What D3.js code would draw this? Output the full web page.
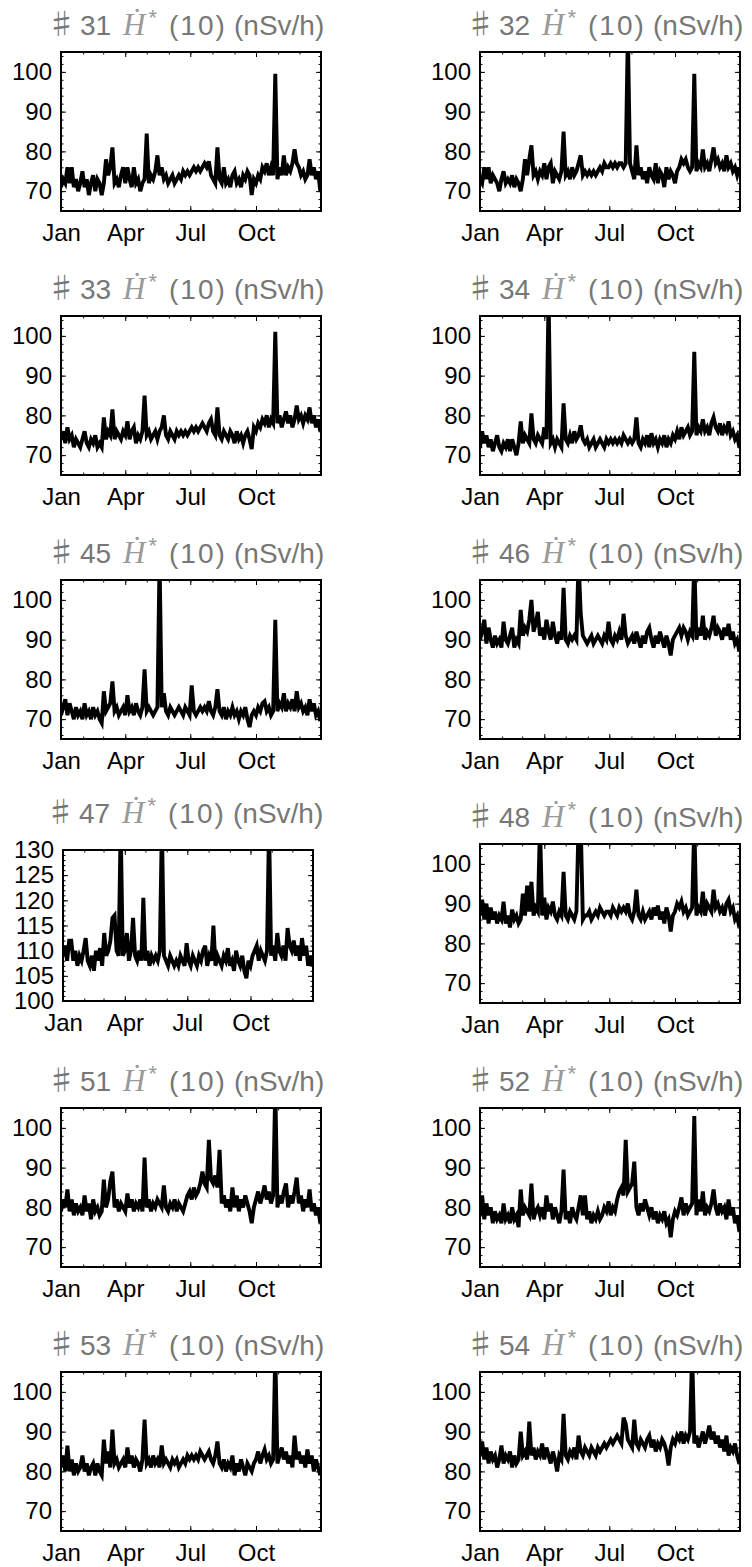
<!DOCTYPE html>
<html>
<head>
<meta charset="utf-8">
<script src="https://cdn.jsdelivr.net/npm/d3@7"></script>
<style>
  body { margin: 0; background: #fff; }
  svg { display: block; }
</style>
</head>
<body>
<div id="chart"></div>
<script>
// one value every 3 days, starting Jan 1
const stepDays = 3;
const monthLabels = ["Jan", "Apr", "Jul", "Oct"];
const yTicksMain = [70, 80, 90, 100];
const yTicks47 = [100, 105, 110, 115, 120, 125, 130];

const s31 = [
  71, 73, 72, 76, 72, 76, 71, 73, 70, 72,
  75, 71, 73, 69, 72, 74, 70, 73, 72, 69,
  72, 78, 74, 76, 81, 72, 73, 71, 74, 76,
  72, 76, 73, 71, 76, 72, 73, 70, 72, 73,
  84.5, 72, 74, 73, 75, 79, 74, 76, 73, 74,
  72, 73, 74, 72, 73, 74, 73, 75, 74, 75,
  74, 75, 76, 75, 76, 75, 76, 77, 76, 77.5,
  74, 73, 72, 81, 73, 72, 76, 72, 73, 71,
  74, 75, 72, 73, 71, 74, 73, 75, 74, 69,
  73, 72, 74, 73, 76, 75, 77, 74, 76, 74,
  99.5, 73, 76, 74, 79, 74, 76, 75, 77, 80.5,
  77, 76, 74, 75, 73, 74, 78, 74, 76, 73, 75, 70
];
const s32 = [
  73, 72, 76, 73, 76, 72, 74, 73, 72, 70,
  73, 75, 72, 73, 72, 74, 71, 73, 72, 70,
  73, 78, 74, 78, 81.5, 74, 75, 73, 75, 74,
  77, 73, 76, 77, 72, 75, 74, 73, 75, 85,
  74, 75, 73, 76, 74, 75, 77, 79, 74, 75,
  74, 75, 74, 75, 74, 75, 76, 75, 77, 76,
  76, 77, 76, 77, 76, 77, 77, 76, 77, 110,
  77, 75, 73, 81.5, 74, 76, 73, 75, 72, 76,
  74, 73, 77, 72, 75, 74, 71, 76, 73, 75,
  74, 72, 75, 76, 78, 77, 78, 76, 75, 76,
  99.5, 75, 77, 76, 80.5, 76, 77, 75, 78, 81,
  77, 78, 76, 77, 75, 79, 76, 77, 75, 76, 74, 76
];
const s33 = [
  74, 76, 73, 77, 74, 75, 72, 74, 73, 72,
  74, 76, 73, 72, 74, 73, 75, 72, 73, 72,
  79.5, 74, 76, 75, 81.5, 74, 76, 75, 74, 76,
  75, 78.5, 74, 76, 77, 73, 75, 74, 76, 85,
  75, 76, 74, 75, 76, 74, 76, 77, 80, 75,
  74, 76, 75, 74, 76, 75, 76, 75, 76, 75,
  76, 77, 76, 77, 76, 77, 78, 77, 76, 78,
  79, 76, 75, 82, 75, 74, 76, 75, 74, 76,
  75, 73, 76, 74, 75, 73, 75, 76, 74, 71.5,
  77, 76, 78, 77, 79, 78, 80, 77, 79, 78,
  101, 78, 80, 77, 79, 81, 78, 80, 77, 79,
  82.5, 79, 80, 78, 80, 79, 82, 78, 80, 77, 79, 76
];
const s34 = [
  72, 76, 73, 75, 72, 74, 71, 73, 75, 72,
  71, 73, 72, 74, 71, 74, 72, 70, 73, 78.5,
  73, 75, 74, 73, 80.5, 74, 73, 75, 74, 73,
  77, 74, 110, 73, 74, 72, 74, 73, 72, 83,
  74, 73, 75, 73, 76, 74, 75, 77.5, 74, 73,
  74, 72, 73, 74, 72, 73, 74, 73, 72, 74,
  73, 74, 73, 74, 73, 74, 73, 75, 74, 73,
  74, 73, 74, 79.5, 73, 72, 74, 73, 75, 72,
  75.5, 73, 74, 72, 74, 73, 75, 72, 74, 73,
  75, 74, 76, 74, 77, 75, 76, 77, 75, 76,
  96, 75, 77, 76, 79, 76, 77, 75, 78, 79.5,
  77, 76, 78, 75, 77, 76, 78.5, 75, 76, 74, 75, 72
];
const s45 = [
  71, 73, 75, 71, 74, 72, 70, 73, 71, 72,
  70, 74, 71, 72, 70, 73, 71, 72, 70, 69,
  77, 72, 73, 74, 79.5, 72, 73, 71, 72, 73,
  71, 76, 72, 73, 71, 74, 72, 71, 73, 82.5,
  72, 73, 72, 71, 72, 73, 110, 73, 76.5, 72,
  71, 73, 72, 71, 72, 73, 72, 71, 73, 72,
  71, 78.5, 72, 71, 72, 73, 72, 73, 72, 74.5,
  72, 71, 73, 77.5, 72, 71, 73, 70, 72, 71,
  73, 71, 72, 70, 72, 71, 73, 70, 68, 71,
  72, 71, 73, 72, 74, 74.5, 72, 73, 71, 72,
  95, 72, 74, 73, 76.5, 72, 74, 73, 75, 72,
  77, 73, 74, 72, 73, 71, 75, 72, 74, 71, 72, 69.5
];
const s46 = [
  90, 92, 95, 89, 93, 90, 88, 91, 89, 90,
  88, 94.5, 90, 89, 91, 93, 88, 90, 89, 97.5,
  91, 93, 92, 95, 100, 92, 94, 97, 91, 93,
  90, 95, 92, 90, 94.5, 91, 89, 92, 90, 103,
  90, 89, 91, 90, 91, 90, 110, 96.5, 91, 90,
  89, 90, 91, 89, 90, 91, 90, 89, 91, 90,
  94.5, 90, 89, 91, 90, 92, 90, 96.5, 91, 89,
  90, 91, 89, 92, 90, 88, 91, 89, 92, 93,
  90, 88, 91, 89, 92, 90, 88, 91, 89, 86,
  90, 91, 92, 93, 91, 93, 92, 90, 92, 91,
  110, 90, 93, 91, 96, 90, 92, 91, 93, 96,
  91, 93, 92, 90, 93, 91, 94, 90, 92, 89, 90, 87
];
const s47 = [
  109, 111, 108, 112, 112, 108, 110, 107, 109, 108,
  110, 112.5, 108, 107, 109, 106, 110, 108, 110.5, 107,
  113.5, 109, 110, 112, 116.5, 117, 110, 109, 135, 109,
  110, 113.5, 108, 110, 116.5, 109, 108, 110, 108, 120.5,
  108, 110, 107, 109, 108, 109, 108, 110, 135, 109,
  108, 107, 109, 108, 107, 108, 107, 109, 108, 107,
  111.5, 108, 107, 109, 108, 107, 109, 108, 110, 111,
  107, 109, 108, 115, 107, 109, 108, 107, 109, 108,
  110.5, 107, 108, 106, 110, 108, 107, 109, 106, 104.5,
  108, 107, 109, 110, 111, 108, 110, 109, 108, 110,
  135, 109, 111, 108, 113.5, 110, 109, 111, 108, 114.5,
  111, 110, 112, 109, 111, 108, 112.5, 109, 111, 107, 109, 107
];
const s48 = [
  87, 91, 86, 90, 85, 89, 86, 88, 85, 87,
  86, 90.5, 85, 87, 84, 88.5, 86, 87, 85, 86,
  92.5, 87, 94.5, 88, 95.5, 87, 89, 88, 110, 87,
  91.5, 86, 89, 88, 90.5, 87, 86, 88, 87, 98,
  87, 86, 88, 87, 86, 88, 110, 110, 86, 87,
  87, 88, 86, 87, 88, 87, 89, 88, 87, 88,
  88, 87, 89, 88, 87, 89, 88, 89, 88, 90,
  87, 86, 88, 93.5, 87, 86, 88, 86, 87, 88,
  86, 89, 87, 89.5, 86, 88, 85, 89, 87, 83,
  87, 88, 90, 89, 90.5, 88, 89, 87, 88, 89,
  110, 87, 89, 88, 93, 87, 90, 89, 88, 93.5,
  89, 90, 88, 89, 87, 90, 91, 88, 89, 86, 87, 84
];
const s51 = [
  79, 82, 80, 84.5, 79, 82, 78, 81, 79, 80,
  78, 83, 79, 81, 77, 82, 79, 80, 78, 79,
  87, 80, 82, 86.5, 89, 80, 82, 79, 81, 80,
  79, 83.5, 80, 82, 79, 81, 80, 82, 79, 92.5,
  80, 82, 79, 81, 80, 82, 81, 80, 85.5, 80,
  79, 81, 80, 82, 79, 81, 80, 79, 81, 83,
  84, 82, 85, 83, 84, 86, 89, 86, 85, 97,
  87, 86, 88, 85, 94.5, 81, 83, 80, 82, 79,
  85, 80, 83, 79, 82, 80, 83, 81, 79, 76,
  80, 82, 84, 81, 83, 85.5, 82, 84, 81, 83,
  110, 80, 83, 81, 84, 86, 80, 83, 81, 84,
  87.5, 81, 83, 79, 82, 80, 84.5, 79, 81, 78, 80, 76
];
const s52 = [
  78, 83, 77, 81, 78, 80, 76, 79, 77, 78,
  76, 81, 77, 78, 76, 80, 77, 78, 75, 84.5,
  78, 80, 79, 78, 86, 77, 79, 80, 78, 80,
  77, 83, 79, 81, 77, 80, 78, 76, 79, 89.5,
  77, 79, 76, 80, 78, 77, 80, 83, 78, 83,
  77, 79, 76, 78, 77, 79, 77, 78, 80, 79,
  81.5, 78, 80, 79, 82, 84, 85, 83, 97, 84,
  85, 86, 91.5, 80, 78, 81, 79, 82, 80, 78,
  80, 77, 79, 76, 78, 77, 79, 76, 77, 72.5,
  77, 79, 78, 80, 82.5, 78, 81, 79, 80, 81,
  103, 78, 82, 79, 84, 78, 80, 79, 81, 84.5,
  80, 78, 81, 79, 80, 77, 82, 78, 80, 76, 78, 74
];
const s53 = [
  81, 84, 80, 86.5, 80, 83, 79, 82, 80, 81,
  84, 80, 82, 79, 81, 82, 79, 82, 80, 79,
  88, 82, 85, 81, 90.5, 82, 83, 81, 82, 83,
  81, 86, 82, 84, 81, 83, 82, 80, 83, 93,
  82, 83, 81, 84, 82, 83, 81, 86.5, 82, 83,
  82, 81, 83, 82, 83, 81, 82, 83, 82, 84,
  83, 84, 83, 84, 83, 85, 84, 83, 84, 85,
  83, 82, 84, 87.5, 82, 81, 83, 80, 82, 81,
  84, 79, 82, 80, 83, 81, 79, 82, 81, 80,
  82, 83, 85, 82, 84, 85.5, 83, 84, 82, 83,
  110, 82, 84, 86, 83, 85, 82, 84, 81, 89,
  83, 85, 82, 84, 81, 85.5, 82, 84, 80, 83, 81, 79
];
const s54 = [
  84, 87.5, 83, 86, 82, 85, 83, 84, 81, 83,
  86.5, 82, 84, 83, 85, 81, 84, 82, 83, 90,
  84, 85, 83, 92.5, 84, 86, 83, 85, 84, 87,
  83, 86, 84, 82, 85, 83, 80, 84, 83, 94.5,
  84, 83, 85, 84, 86, 83, 89, 85, 84, 86,
  85, 84, 86, 85, 84, 86, 85, 86, 87, 86,
  87, 88, 87, 88, 89, 88, 87, 93.5, 92, 88,
  87, 86, 93, 87, 86, 88, 87, 86, 88, 89,
  86, 88, 85, 87, 86, 88, 87, 85, 81.5, 86,
  88, 87, 89, 88, 90, 87, 89, 88, 90, 110,
  87, 89, 86, 88, 90, 87, 89, 91.5, 88, 90,
  87, 89, 86, 88, 85, 89, 84, 86, 85, 87, 84, 82
];

const panelIds = ["31", "32", "33", "34", "45", "46", "47", "48", "51", "52", "53", "54"];
const panelSeries = [s31, s32, s33, s34, s45, s46, s47, s48, s51, s52, s53, s54];

const W = 752, H = 1567;
const svg = d3.select("#chart").append("svg")
  .attr("width", W)
  .attr("height", H);

const yearStart = new Date(2019, 0, 1);
const yearEnd = new Date(2019, 11, 31);
const labelFont = "'Liberation Sans', Arial, sans-serif";

panelIds.forEach(function(id, k) {
  const values = panelSeries[k];
  const col = k % 2, row = Math.floor(k / 2);
  const big = id === "47";

  // frame box
  let left = col === 0 ? 61 : 480;
  let top = 52 + row * 264;
  let w = 260, h = 159;
  if (big) { left = 63; top = 850; w = 250; h = 151; }

  const g = svg.append("g").attr("transform", `translate(${left},${top})`);

  const x = d3.scaleTime().domain([yearStart, yearEnd]).range([0, w]);
  const y = d3.scaleLinear().domain(big ? [100, 130] : [65, 105]).range([h, 0]);

  const major = big ? yTicks47 : yTicksMain;
  const minor = big ? d3.range(100, 131, 1) : d3.range(66, 105, 2);
  const months = d3.timeMonth.range(yearStart, new Date(2020, 0, 1));
  const labelMonths = months.filter(d => monthLabels.includes(d3.timeFormat("%b")(d)));

  const clipId = "clip" + id;
  g.append("clipPath").attr("id", clipId)
    .append("rect").attr("width", w).attr("height", h);

  // series line
  const pts = values.map((v, i) => ({ date: d3.timeDay.offset(yearStart, i * stepDays), v: v }));
  g.append("path")
    .datum(pts)
    .attr("clip-path", `url(#${clipId})`)
    .attr("fill", "none")
    .attr("stroke", "#000")
    .attr("stroke-width", 3.9)
    .attr("d", d3.line().x(d => x(d.date)).y(d => y(d.v)));

  // inward ticks on all four sides
  function ticks(axis, tx, ty) {
    const a = g.append("g").attr("transform", `translate(${tx},${ty})`).call(axis);
    a.select(".domain").remove();
    a.selectAll("line").attr("stroke", "#000").attr("stroke-width", 1);
    return a;
  }
  ticks(d3.axisLeft(y).tickValues(minor).tickSize(-2.5).tickFormat(""), 0, 0);
  ticks(d3.axisRight(y).tickValues(minor).tickSize(-2.5).tickFormat(""), w, 0);
  ticks(d3.axisTop(x).tickValues(months).tickSize(-2.5).tickFormat(""), 0, 0);
  ticks(d3.axisBottom(x).tickValues(months).tickSize(-2.5).tickFormat(""), 0, h);
  ticks(d3.axisRight(y).tickValues(major).tickSize(-5).tickFormat(""), w, 0);
  ticks(d3.axisTop(x).tickValues(labelMonths).tickSize(-5).tickFormat(""), 0, 0);

  const yAx = ticks(d3.axisLeft(y).tickValues(major).tickSize(-5).tickPadding(9), 0, 0);
  yAx.selectAll("text")
    .attr("font-family", labelFont).attr("font-size", 24).attr("fill", "#000");

  const xAx = ticks(d3.axisBottom(x).tickValues(labelMonths).tickSize(-5).tickPadding(13)
    .tickFormat(d3.timeFormat("%b")), 0, h);
  xAx.selectAll("text")
    .attr("font-family", labelFont).attr("font-size", 24).attr("fill", "#000");

  // frame
  g.append("rect")
    .attr("width", w).attr("height", h)
    .attr("fill", "none").attr("stroke", "#000").attr("stroke-width", 2);

  // title, pieces placed left to right from the frame's left edge
  const tx = big ? -16 : -13;
  const t = g.append("text")
    .attr("y", big ? -27 : -17)
    .attr("font-family", labelFont)
    .attr("font-size", 28)
    .attr("fill", "#777");
  t.append("tspan").attr("x", tx - 1)
    .attr("font-family", "'Noto Sans CJK JP', 'DejaVu Sans', sans-serif").attr("font-size", 29)
    .text("\u266F");
  t.append("tspan").attr("x", tx + 32).text(id);
  t.append("tspan").attr("x", tx + 75)
    .attr("font-family", "'Liberation Serif', 'DejaVu Serif', serif")
    .attr("font-style", "italic").attr("font-size", 31).attr("fill", "#999")
    .text("\u1E22");
  t.append("tspan").attr("font-size", 22).attr("dx", 3).attr("dy", -10).attr("fill", "#999").text("*");
  t.append("tspan").attr("x", tx + 121).attr("dy", 10).attr("letter-spacing", 2).text("(10)");
  t.append("tspan").attr("x", tx + 186).text("(nSv/h)");
});
</script>
</body>
</html>
